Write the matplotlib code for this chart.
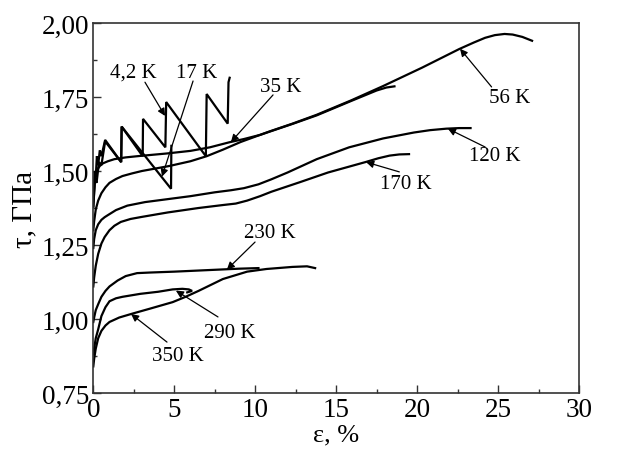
import matplotlib
matplotlib.use("Agg")
import matplotlib.pyplot as plt
from matplotlib.ticker import MultipleLocator

# ---- data (strain %, shear stress GPa) ----
x_4K = [0, 0.08, 0.15, 0.22, 0.3, 0.4, 0.5, 0.73, 1.72, 1.75, 3.05, 3.07, 4.45, 4.5, 6.95, 7.0, 8.3, 8.35, 8.42]
y_4K = [1.42, 1.50, 1.48, 1.55, 1.52, 1.57, 1.55, 1.605, 1.53, 1.65, 1.55, 1.676, 1.58, 1.733, 1.55, 1.76, 1.66, 1.80, 1.815]

x_17K = [0, 0.1, 0.2, 0.35, 0.5, 0.73, 1.72, 1.75, 4.8, 4.82]
y_17K = [1.38, 1.47, 1.46, 1.53, 1.52, 1.60, 1.53, 1.65, 1.44, 1.585]

x_35K = [0, 0.05, 0.1, 0.17, 0.25, 0.4, 0.6, 0.9, 1.3, 2.0, 2.9, 4.5, 6.0, 7.2, 8.4, 9.3, 10.3, 12.3, 13.8, 15.9, 17.5, 18.1, 18.6]
y_35K = [1.38, 1.43, 1.465, 1.49, 1.505, 1.517, 1.526, 1.533, 1.54, 1.546, 1.551, 1.559, 1.568, 1.58, 1.597, 1.608, 1.622, 1.659, 1.688, 1.736, 1.772, 1.782, 1.786]

x_56K = [0, 0.05, 0.15, 0.3, 0.5, 0.75, 1.0, 1.4, 1.8, 2.4, 3.0, 4.7, 6.0, 7.0, 8.0, 9.1, 10.9, 12.3, 13.8, 15.9, 17.9, 20.3, 22.6, 23.5, 24.2, 24.8, 25.4, 25.9, 26.5, 27.1]
y_56K = [1.30, 1.33, 1.37, 1.40, 1.425, 1.445, 1.46, 1.473, 1.483, 1.492, 1.50, 1.517, 1.533, 1.55, 1.572, 1.598, 1.634, 1.66, 1.69, 1.738, 1.787, 1.849, 1.912, 1.934, 1.95, 1.959, 1.963, 1.961, 1.953, 1.94]

x_120K = [0, 0.05, 0.15, 0.3, 0.5, 0.7, 0.9, 1.4, 2.1, 3.2, 4.6, 6.0, 7.5, 8.5, 9.3, 10.2, 11.0, 12.0, 13.8, 15.8, 17.9, 19.8, 20.8, 21.8, 22.6, 23.3]
y_120K = [1.24, 1.27, 1.30, 1.32, 1.335, 1.344, 1.351, 1.368, 1.383, 1.395, 1.405, 1.415, 1.428, 1.435, 1.442, 1.455, 1.472, 1.495, 1.54, 1.58, 1.61, 1.63, 1.638, 1.643, 1.645, 1.645]

x_170K = [0, 0.05, 0.15, 0.3, 0.5, 0.7, 1.0, 1.3, 1.7, 2.3, 3.0, 4.6, 6.5, 8.0, 8.8, 9.5, 10.3, 11.0, 12.8, 14.5, 16.8, 17.6, 18.3, 18.9, 19.5]
y_170K = [1.11, 1.14, 1.18, 1.22, 1.255, 1.277, 1.30, 1.315, 1.328, 1.338, 1.345, 1.36, 1.375, 1.385, 1.39, 1.40, 1.415, 1.43, 1.463, 1.495, 1.53, 1.543, 1.552, 1.556, 1.557]

x_230K = [0, 0.05, 0.15, 0.3, 0.5, 0.75, 1.0, 1.5, 2.0, 2.7, 3.5, 5.0, 7.0, 9.0, 10.2]
y_230K = [0.99, 1.005, 1.03, 1.05, 1.075, 1.095, 1.11, 1.13, 1.145, 1.155, 1.157, 1.16, 1.165, 1.17, 1.172]

x_290K = [0, 0.05, 0.15, 0.3, 0.5, 0.75, 1.0, 1.4, 1.8, 2.9, 4.0, 4.9, 5.5, 5.9, 6.1, 5.8]
y_290K = [0.88, 0.90, 0.935, 0.965, 1.01, 1.04, 1.06, 1.07, 1.075, 1.085, 1.092, 1.10, 1.102, 1.10, 1.095, 1.09]

x_350K = [0, 0.05, 0.15, 0.3, 0.5, 0.75, 1.0, 1.6, 2.4, 3.5, 4.9, 5.7, 6.5, 8.0, 9.5, 10.7, 12.3, 13.2, 13.7]
y_350K = [0.84, 0.865, 0.90, 0.935, 0.96, 0.978, 0.99, 1.005, 1.018, 1.035, 1.057, 1.075, 1.095, 1.135, 1.16, 1.169, 1.176, 1.178, 1.172]

curves = [(x_4K, y_4K), (x_17K, y_17K), (x_35K, y_35K), (x_56K, y_56K),
          (x_120K, y_120K), (x_170K, y_170K), (x_230K, y_230K),
          (x_290K, y_290K), (x_350K, y_350K)]

# labels: text, text position, arrow start, arrow tip (data coords)
label_texts = ["4,2 K", "17 K", "35 K", "56 K", "120 K", "170 K", "230 K", "290 K", "350 K"]
label_pos = [(2.45, 1.834), (6.4, 1.834), (11.6, 1.786), (25.7, 1.750), (24.8, 1.552), (19.3, 1.457), (10.9, 1.292), (8.4, 0.953), (5.2, 0.876)]
arrow_from = [(3.19, 1.80), (6.16, 1.804), (11.1, 1.757), (24.6, 1.784), (24.2, 1.581), (18.9, 1.497), (9.99, 1.260), (7.7, 1.007), (4.55, 0.922)]
arrow_to = [(4.43, 1.686), (4.24, 1.481), (8.5, 1.598), (22.65, 1.913), (21.9, 1.643), (16.85, 1.530), (8.25, 1.167), (5.1, 1.096), (2.33, 1.017)]

xticks = [0, 5, 10, 15, 20, 25, 30]
yticks = [0.75, 1.00, 1.25, 1.50, 1.75, 2.00]
ytick_labels = ["0,75", "1,00", "1,25", "1,50", "1,75", "2,00"]

plt.rcParams['font.family'] = ['Liberation Serif', 'DejaVu Serif']

fig = plt.figure(figsize=(6.23, 4.52), dpi=100)
ax = fig.add_axes([0.1498, 0.1283, 0.7796, 0.8186])

for xs, ys in curves:
    ax.plot(xs, ys, color='black', lw=1.6, solid_joinstyle='miter')

for t, p, a, b in zip(label_texts, label_pos, arrow_from, arrow_to):
    ax.text(p[0], p[1], t, ha='center', va='center', fontsize=15)
    ax.annotate('', xy=b, xytext=a,
                arrowprops=dict(arrowstyle='-|>', lw=0.9, color='black',
                                mutation_scale=11, shrinkA=0, shrinkB=0))

ax.set_xlim(0, 30)
ax.set_ylim(0.75, 2.00)
ax.set_xticks(xticks)
ax.set_xticklabels([str(v) for v in xticks])
ax.set_yticks(yticks)
ax.set_yticklabels(ytick_labels)
ax.xaxis.set_minor_locator(MultipleLocator(2.5))
ax.yaxis.set_minor_locator(MultipleLocator(0.125))
ax.tick_params(which='major', direction='in', length=6, width=1, labelsize=19.5, color='#333333', pad=3)
ax.tick_params(which='minor', direction='in', length=3, width=1, color='#333333')
ax.tick_params(top=False, right=False, which='both')
for s in ax.spines.values():
    s.set_color('#333333')
    s.set_linewidth(1.2)

ax.set_xlabel('ε, %', fontsize=19, labelpad=1)
ax.set_ylabel('τ, ГПа', fontsize=21, labelpad=3)

fig.savefig('out.png', dpi=100)
